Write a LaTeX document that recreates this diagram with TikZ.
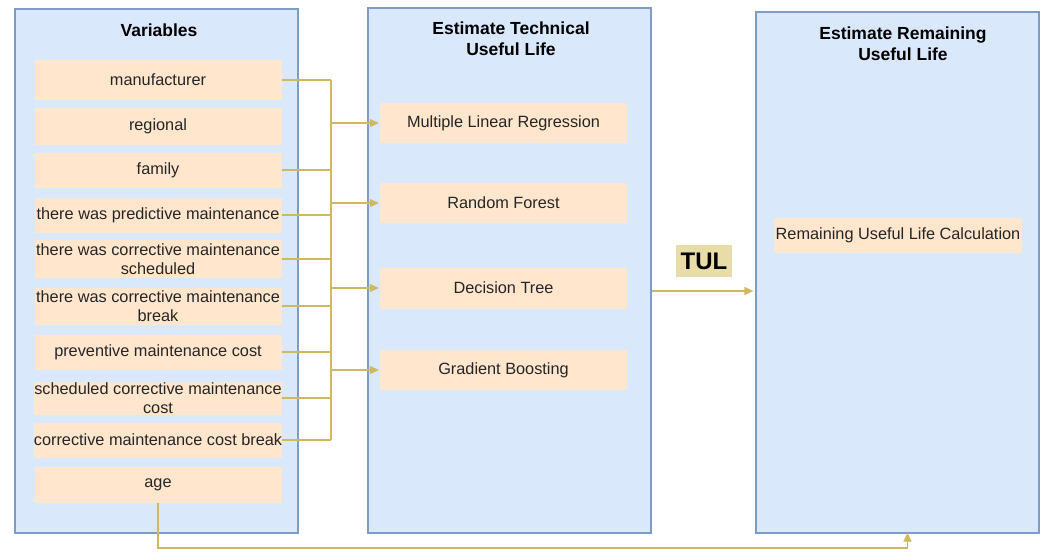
\documentclass[tikz,border=0pt]{standalone}
\usepackage{fontspec}
\setmainfont{Liberation Sans}
\usetikzlibrary{arrows.meta}
\definecolor{panelfill}{HTML}{DAE8FC}
\definecolor{panelline}{HTML}{7F9CC8}
\definecolor{itemfill}{HTML}{FFE6CC}
\definecolor{linkcol}{HTML}{D0B762}
\definecolor{tagfill}{HTML}{E8DCA8}
\tikzset{
  panel/.style={draw=panelline, fill=panelfill, line width=1.2pt, minimum width=283pt},
  item/.style={fill=itemfill, inner sep=0pt, align=center, minimum width=247pt,
    font=\fontsize{16.3}{18.5}\selectfont, text=black!85},
  title/.style={align=center, font=\fontsize{17.5}{21}\selectfont\bfseries},
  conn/.style={draw=linkcol, line width=1.2pt},
  arr/.style={-{Triangle[length=9pt,width=8pt]}, linkcol}
}
\begin{document}
\begin{tikzpicture}[x=1pt, y=-1pt]
\useasboundingbox (0,0) rectangle (1043,558);

% three stage panels
\node[panel, minimum height=524pt] (lp) at (156.5,271) {};
\node[panel, minimum height=525pt] (mp) at (509.5,270.5) {};
\node[panel, minimum height=521pt] (rp) at (897.5,272.5) {};

% panel titles
\node[title] (lt) at (159,30) {Variables};
\node[title] (mt) at (511,39) {Estimate Technical\\Useful Life};
\node[title] (rt) at (903,44) {Estimate Remaining\\Useful Life};

% input variables
\node[item, minimum height=40pt] (v1) at (158,80) {manufacturer};
\node[item, minimum height=37pt] (v2) at (158,126) {regional};
\node[item, minimum height=35pt] (v3) at (158,170) {family};
\node[item, minimum height=35pt] (v4) at (158,215) {there was predictive maintenance};
\node[item, minimum height=38pt] (v5) at (158,259) {there was corrective maintenance\\scheduled};
\node[item, minimum height=37pt] (v6) at (158,306) {there was corrective maintenance\\break};
\node[item, minimum height=35pt] (v7) at (158,352) {preventive maintenance cost};
\node[item, minimum height=33pt] (v8) at (158,398) {scheduled corrective maintenance\\cost};
\node[item, minimum height=35pt] (v9) at (158,440) {corrective maintenance cost break};
\node[item, minimum height=36pt] (age) at (158,485) {age};

% models
\node[item, minimum height=40pt] (m1) at (503.5,123) {Multiple Linear Regression};
\node[item, minimum height=40pt] (m2) at (503.5,203) {Random Forest};
\node[item, minimum height=41pt] (m3) at (503.5,288) {Decision Tree};
\node[item, minimum height=40pt] (m4) at (503.5,370) {Gradient Boosting};

% remaining useful life
\node[item, minimum width=248pt, minimum height=35pt] (rul) at (898,235.5) {Remaining Useful Life Calculation};

% TUL tag
\node[fill=tagfill, minimum width=56pt, minimum height=32pt, inner sep=0pt,
  font=\fontsize{24}{26}\selectfont\bfseries] (tul) at (704,261) {TUL};

% collecting bus
\coordinate (bus) at (331,0);
\foreach \v in {v1,v3,v4,v5,v6,v7,v8,v9}
  \draw[conn] (\v.east) -- (\v.east -| bus);
\draw[conn] (v1.east -| bus) -- (v9.east -| bus);
\foreach \m in {m1,m2,m3,m4}
  \draw[conn, arr] (\m.west -| bus) -- ([xshift=-1pt]\m.west);

% TUL hand-over
\coordinate (tulrow) at (0,291);
\draw[conn, arr] (mp.east |- tulrow) -- ([xshift=-2pt]rp.west |- tulrow);

% age goes straight to the last stage
\coordinate (ageturn) at (0,548);
\coordinate (agein) at ([xshift=10pt]rp.south);
\draw[conn, arr] (age.south) -- (age.south |- ageturn) -| ([yshift=1pt]agein);
\end{tikzpicture}
\end{document}
